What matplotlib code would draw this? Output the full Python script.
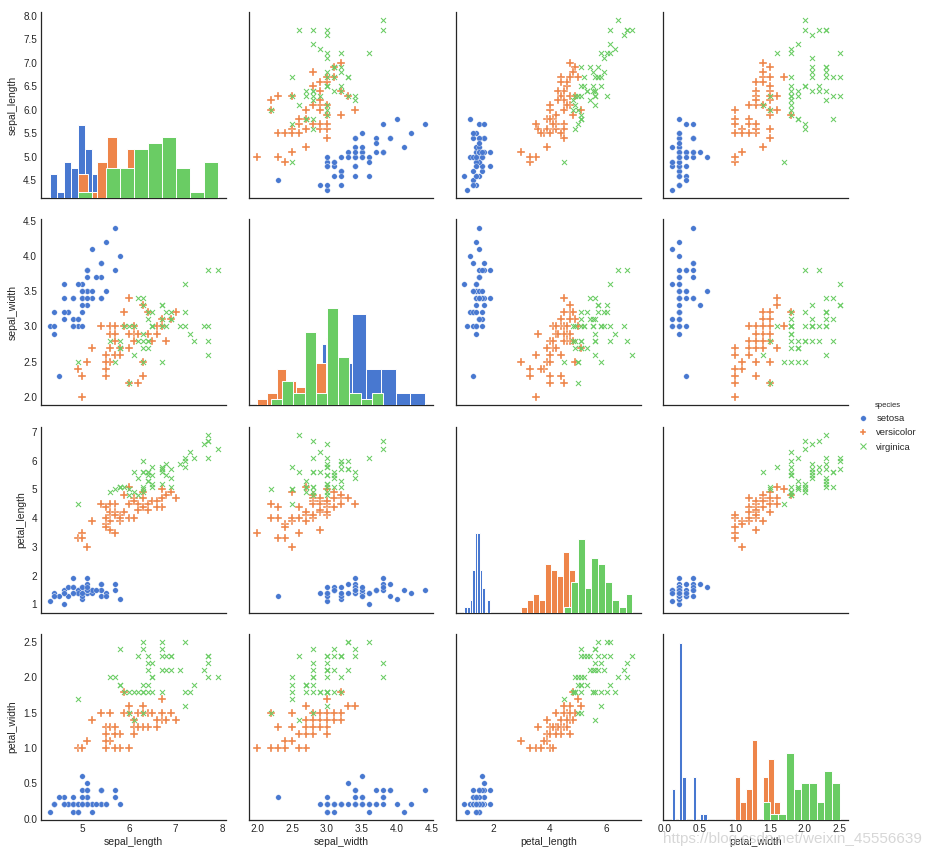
import numpy as np
import matplotlib.pyplot as plt
from matplotlib.lines import Line2D

# iris data, 50 rows per species
sepal_length = [5.1, 4.9, 4.7, 4.6, 5.0, 5.4, 4.6, 5.0, 4.4, 4.9, 5.4, 4.8, 4.8, 4.3, 5.8, 5.7, 5.4, 5.1, 5.7, 5.1,
                5.4, 5.1, 4.6, 5.1, 4.8, 5.0, 5.0, 5.2, 5.2, 4.7, 4.8, 5.4, 5.2, 5.5, 4.9, 5.0, 5.5, 4.9, 4.4, 5.1,
                5.0, 4.5, 4.4, 5.0, 5.1, 4.8, 5.1, 4.6, 5.3, 5.0,
                7.0, 6.4, 6.9, 5.5, 6.5, 5.7, 6.3, 4.9, 6.6, 5.2, 5.0, 5.9, 6.0, 6.1, 5.6, 6.7, 5.6, 5.8, 6.2, 5.6,
                5.9, 6.1, 6.3, 6.1, 6.4, 6.6, 6.8, 6.7, 6.0, 5.7, 5.5, 5.5, 5.8, 6.0, 5.4, 6.0, 6.7, 6.3, 5.6, 5.5,
                5.5, 6.1, 5.8, 5.0, 5.6, 5.7, 5.7, 6.2, 5.1, 5.7,
                6.3, 5.8, 7.1, 6.3, 6.5, 7.6, 4.9, 7.3, 6.7, 7.2, 6.5, 6.4, 6.8, 5.7, 5.8, 6.4, 6.5, 7.7, 7.7, 6.0,
                6.9, 5.6, 7.7, 6.3, 6.7, 7.2, 6.2, 6.1, 6.4, 7.2, 7.4, 7.9, 6.4, 6.3, 6.1, 7.7, 6.3, 6.4, 6.0, 6.9,
                6.7, 6.9, 5.8, 6.8, 6.7, 6.7, 6.3, 6.5, 6.2, 5.9]
sepal_width = [3.5, 3.0, 3.2, 3.1, 3.6, 3.9, 3.4, 3.4, 2.9, 3.1, 3.7, 3.4, 3.0, 3.0, 4.0, 4.4, 3.9, 3.5, 3.8, 3.8,
               3.4, 3.7, 3.6, 3.3, 3.4, 3.0, 3.4, 3.5, 3.4, 3.2, 3.1, 3.4, 4.1, 4.2, 3.1, 3.2, 3.5, 3.6, 3.0, 3.4,
               3.5, 2.3, 3.2, 3.5, 3.8, 3.0, 3.8, 3.2, 3.7, 3.3,
               3.2, 3.2, 3.1, 2.3, 2.8, 2.8, 3.3, 2.4, 2.9, 2.7, 2.0, 3.0, 2.2, 2.9, 2.9, 3.1, 3.0, 2.7, 2.2, 2.5,
               3.2, 2.8, 2.5, 2.8, 2.9, 3.0, 2.8, 3.0, 2.9, 2.6, 2.4, 2.4, 2.7, 2.7, 3.0, 3.4, 3.1, 2.3, 3.0, 2.5,
               2.6, 3.0, 2.6, 2.3, 2.7, 3.0, 2.9, 2.9, 2.5, 2.8,
               3.3, 2.7, 3.0, 2.9, 3.0, 3.0, 2.5, 2.9, 2.5, 3.6, 3.2, 2.7, 3.0, 2.5, 2.8, 3.2, 3.0, 3.8, 2.6, 2.2,
               3.2, 2.8, 2.8, 2.7, 3.3, 3.2, 2.8, 3.0, 2.8, 3.0, 2.8, 3.8, 2.8, 2.8, 2.6, 3.0, 3.4, 3.1, 3.0, 3.1,
               3.1, 3.1, 2.7, 3.2, 3.3, 3.0, 2.5, 3.0, 3.4, 3.0]
petal_length = [1.4, 1.4, 1.3, 1.5, 1.4, 1.7, 1.4, 1.5, 1.4, 1.5, 1.5, 1.6, 1.4, 1.1, 1.2, 1.5, 1.3, 1.4, 1.7, 1.5,
                1.7, 1.5, 1.0, 1.7, 1.9, 1.6, 1.6, 1.5, 1.4, 1.6, 1.6, 1.5, 1.5, 1.4, 1.5, 1.2, 1.3, 1.4, 1.3, 1.5,
                1.3, 1.3, 1.3, 1.6, 1.9, 1.4, 1.6, 1.4, 1.5, 1.4,
                4.7, 4.5, 4.9, 4.0, 4.6, 4.5, 4.7, 3.3, 4.6, 3.9, 3.5, 4.2, 4.0, 4.7, 3.6, 4.4, 4.5, 4.1, 4.5, 3.9,
                4.8, 4.0, 4.9, 4.7, 4.3, 4.4, 4.8, 5.0, 4.5, 3.5, 3.8, 3.7, 3.9, 5.1, 4.5, 4.5, 4.7, 4.4, 4.1, 4.0,
                4.4, 4.6, 4.0, 3.3, 4.2, 4.2, 4.2, 4.3, 3.0, 4.1,
                6.0, 5.1, 5.9, 5.6, 5.8, 6.6, 4.5, 6.3, 5.8, 6.1, 5.1, 5.3, 5.5, 5.0, 5.1, 5.3, 5.5, 6.7, 6.9, 5.0,
                5.7, 4.9, 6.7, 4.9, 5.7, 6.0, 4.8, 4.9, 5.6, 5.8, 6.1, 6.4, 5.6, 5.1, 5.6, 6.1, 5.6, 5.5, 4.8, 5.4,
                5.6, 5.1, 5.1, 5.9, 5.7, 5.2, 5.0, 5.2, 5.4, 5.1]
petal_width = [0.2, 0.2, 0.2, 0.2, 0.2, 0.4, 0.3, 0.2, 0.2, 0.1, 0.2, 0.2, 0.1, 0.1, 0.2, 0.4, 0.4, 0.3, 0.3, 0.3,
               0.2, 0.4, 0.2, 0.5, 0.2, 0.2, 0.4, 0.2, 0.2, 0.2, 0.2, 0.4, 0.1, 0.2, 0.2, 0.2, 0.2, 0.1, 0.2, 0.2,
               0.3, 0.3, 0.2, 0.6, 0.4, 0.3, 0.2, 0.2, 0.2, 0.2,
               1.4, 1.5, 1.5, 1.3, 1.5, 1.3, 1.6, 1.0, 1.3, 1.4, 1.0, 1.5, 1.0, 1.4, 1.3, 1.4, 1.5, 1.0, 1.5, 1.1,
               1.8, 1.3, 1.5, 1.2, 1.3, 1.4, 1.4, 1.7, 1.5, 1.0, 1.1, 1.0, 1.2, 1.6, 1.5, 1.6, 1.5, 1.3, 1.3, 1.3,
               1.2, 1.4, 1.2, 1.0, 1.3, 1.2, 1.3, 1.3, 1.1, 1.3,
               2.5, 1.9, 2.1, 1.8, 2.2, 2.1, 1.7, 1.8, 1.8, 2.5, 2.0, 1.9, 2.1, 2.0, 2.4, 2.3, 1.8, 2.2, 2.3, 1.5,
               2.3, 2.0, 2.0, 1.8, 2.1, 1.8, 1.8, 1.8, 2.1, 1.6, 1.9, 2.0, 2.2, 1.5, 1.4, 2.3, 2.4, 1.8, 1.8, 2.1,
               2.4, 2.3, 1.9, 2.3, 2.5, 2.3, 1.9, 2.0, 2.3, 1.8]
species = ["setosa"] * 50 + ["versicolor"] * 50 + ["virginica"] * 50

names = ["sepal_length", "sepal_width", "petal_length", "petal_width"]
ticks = {
    "sepal_length": [4.5, 5.0, 5.5, 6.0, 6.5, 7.0, 7.5, 8.0],
    "sepal_width": [2.0, 2.5, 3.0, 3.5, 4.0, 4.5],
    "petal_length": [1, 2, 3, 4, 5, 6, 7],
    "petal_width": [0.0, 0.5, 1.0, 1.5, 2.0, 2.5],
}
xticks = {
    "sepal_length": [5, 6, 7, 8],
    "sepal_width": [2.0, 2.5, 3.0, 3.5, 4.0, 4.5],
    "petal_length": [2, 4, 6],
    "petal_width": [0.0, 0.5, 1.0, 1.5, 2.0, 2.5],
}
levels = ["setosa", "versicolor", "virginica"]
colors = ["#4878d0", "#ee854a", "#6acc64"]
markers = ["o", "P", "x"]
msize = [16, 27, 13]

cols = {"sepal_length": np.array(sepal_length), "sepal_width": np.array(sepal_width),
        "petal_length": np.array(petal_length), "petal_width": np.array(petal_width)}
sp = np.array(species)

plt.rcParams['font.family'] = ['Liberation Sans', 'DejaVu Sans']
ink = "#262626"

fig, axes = plt.subplots(4, 4, figsize=(9.29, 8.57), dpi=100, sharex='col', sharey='row')
fig.subplots_adjust(left=0.0445, right=0.913, bottom=0.0432, top=0.986, wspace=0.122, hspace=0.113)

diag = []
for i, yn in enumerate(names):
    for j, xn in enumerate(names):
        ax = axes[i, j]
        for s in ["top", "right"]:
            ax.spines[s].set_visible(False)
        for s in ["left", "bottom"]:
            ax.spines[s].set_color(ink)
            ax.spines[s].set_linewidth(0.9)
        ax.tick_params(length=0, labelsize=7.2, labelcolor=ink, pad=3)
        if i == j:
            dax = ax.twinx()
            for s in dax.spines.values():
                s.set_visible(False)
            dax.tick_params(left=False, right=False, labelright=False)
            for lev, c in zip(levels, colors):
                dax.hist(cols[xn][sp == lev], bins=10, color=c, edgecolor="white", linewidth=0.7)
            if diag:
                dax.sharey(diag[0])
            diag.append(dax)
        else:
            for lev, c, m, ms in zip(levels, colors, markers, msize):
                mask = sp == lev
                if m == "x":
                    ax.scatter(cols[xn][mask], cols[yn][mask], s=ms, marker=m, color=c, linewidths=0.75)
                else:
                    ax.scatter(cols[xn][mask], cols[yn][mask], s=ms, marker=m, color=c,
                               edgecolors="white", linewidths=0.25)
        if j == 0:
            ax.set_ylabel(yn, fontsize=7.5, color=ink)
        if i == 3:
            ax.set_xlabel(xn, fontsize=7.5, color=ink, labelpad=2)

for k, n in enumerate(names):
    axes[k, 0].set_yticks(ticks[n])
    axes[3, k].set_xticks(xticks[n])

handles = [Line2D([], [], marker=m, linestyle="", color=c, markersize=(4 if m != "P" else 5),
                  markeredgecolor=("white" if m != "x" else c), markeredgewidth=(0.25 if m != "x" else 0.75))
           for m, c in zip(markers, colors)]
leg = fig.legend(handles, levels, title="species", loc="center left", bbox_to_anchor=(0.918, 0.502),
                 frameon=False, fontsize=6.8, title_fontsize=5.5, handlelength=1.0, handletextpad=0.9,
                 labelspacing=0.55, borderaxespad=0.2)
for t in leg.get_texts():
    t.set_color(ink)
leg.get_title().set_color(ink)

fig.text(0.992, 0.021, "https://blog.csdn.net/weixin_45556639", ha="right", va="center",
         fontsize=11, color="#d0d0d0", alpha=0.85)

fig.savefig("out.png", dpi=100)
